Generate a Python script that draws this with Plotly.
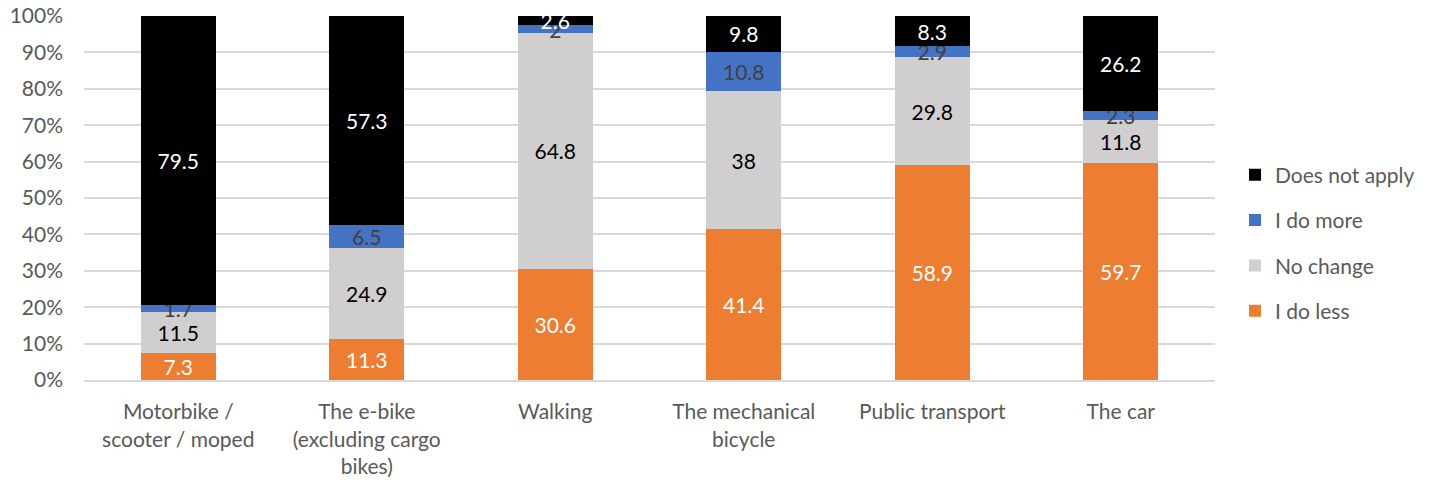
import plotly.graph_objects as go

# Travel modes and the share of respondents per answer (percent)
categories = [
    "Motorbike /<br>scooter / moped",
    "The e-bike<br>(excluding cargo<br>bikes)",
    "Walking",
    "The mechanical<br>bicycle",
    "Public transport",
    "The car",
]
do_less = [7.3, 11.3, 30.6, 41.4, 58.9, 59.7]
no_change = [11.5, 24.9, 64.8, 38, 29.8, 11.8]
do_more = [1.7, 6.5, 2, 10.8, 2.9, 2.3]
not_apply = [79.5, 57.3, 2.6, 9.8, 8.3, 26.2]

series = [
    ("I do less", do_less, "#ED7D31", "#FFFFFF"),
    ("No change", no_change, "#D0CECE", "#000000"),
    ("I do more", do_more, "#4472C4", "#404040"),
    ("Does not apply", not_apply, "#000000", "#FFFFFF"),
]

FONT = "Lato, Carlito, Calibri, sans-serif"
FS = 21

fig = go.Figure()
for i, (name, vals, color, txtcolor) in enumerate(series):
    fig.add_trace(go.Bar(
        name=name,
        x=categories,
        y=vals,
        marker=dict(color=color, line=dict(width=0)),
        text=[f"{v:g}" for v in vals],
        textposition="inside",
        insidetextanchor="middle",
        textangle=0,
        constraintext="none",
        textfont=dict(color=txtcolor, size=FS, family=FONT),
        legendgroup=f"g{i}",
        legendrank=100 - i,
        cliponaxis=False,
    ))

fig.update_layout(
    barmode="stack",
    barnorm="percent",
    bargap=0.6,
    width=1438,
    height=482,
    margin=dict(l=84, r=223, t=16, b=102, autoexpand=False),
    paper_bgcolor="white",
    plot_bgcolor="white",
    font=dict(family=FONT, size=FS, color="#595959"),
    uniformtext=dict(minsize=FS, mode="show"),
    showlegend=True,
    legend=dict(
        traceorder="grouped",
        tracegroupgap=15,
        x=1.0177,
        xanchor="left",
        y=0.376,
        yanchor="middle",
        font=dict(size=FS, color="#595959", family=FONT),
        itemwidth=30,
    ),
    yaxis=dict(
        range=[0, 100],
        dtick=10,
        ticksuffix="%",
        showgrid=True,
        gridcolor="#D9D9D9",
        gridwidth=2,
        zeroline=False,
        showline=False,
        ticks="",
        tickfont=dict(size=FS, color="#595959"),
        ticklabelstandoff=20,
        automargin=False,
    ),
    xaxis=dict(
        showline=True,
        linecolor="#D9D9D9",
        linewidth=2,
        ticks="",
        tickfont=dict(size=FS, color="#595959"),
        ticklabelstandoff=12,
        automargin=False,
    ),
)

fig.write_html("out.html")
